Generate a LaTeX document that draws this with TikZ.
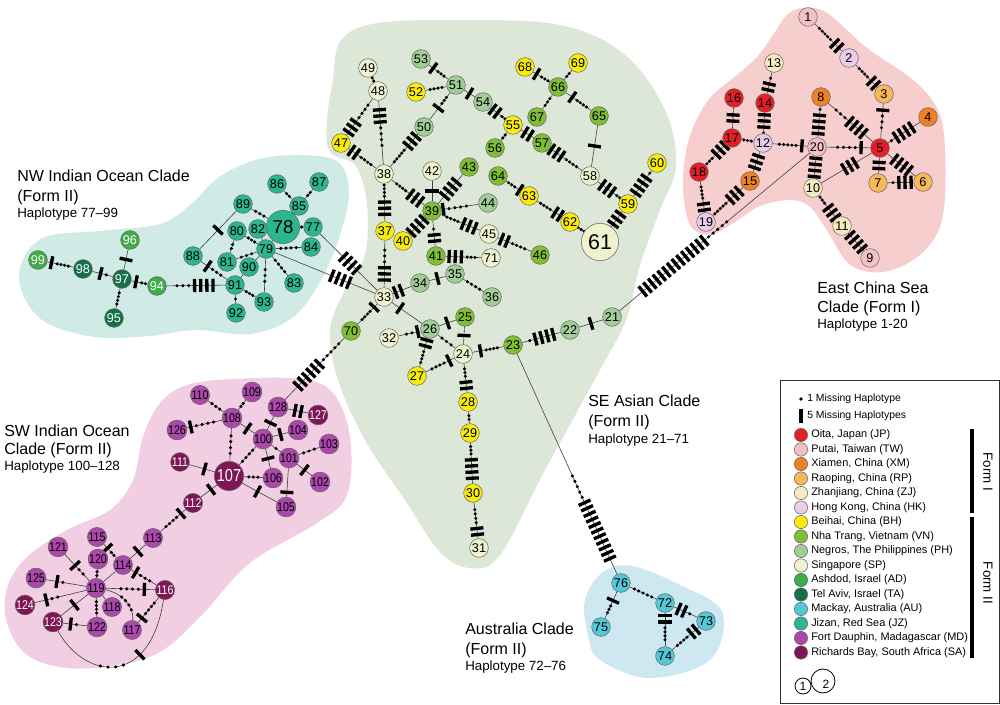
\documentclass[tikz,border=0pt]{standalone}
\usepackage{fontspec}
\setmainfont{Liberation Sans}
\newfontfamily\numf{Liberation Sans}
\newfontfamily\numc[FakeStretch=0.84]{Liberation Sans}
\usetikzlibrary{calc}
\pgfdeclarelayer{blob}
\pgfdeclarelayer{edges}
\pgfsetlayers{blob,edges,main}
\definecolor{cJP}{RGB}{228,30,38}
\definecolor{cTW}{RGB}{244,192,200}
\definecolor{cXM}{RGB}{240,128,36}
\definecolor{cRP}{RGB}{246,184,90}
\definecolor{cZJ}{RGB}{246,234,192}
\definecolor{cHK}{RGB}{234,204,234}
\definecolor{cBH}{RGB}{250,236,10}
\definecolor{cVN}{RGB}{128,190,52}
\definecolor{cPH}{RGB}{160,206,150}
\definecolor{cSP}{RGB}{238,242,205}
\definecolor{cAD}{RGB}{62,172,72}
\definecolor{cTA}{RGB}{22,112,72}
\definecolor{cAU}{RGB}{84,200,214}
\definecolor{cJZ}{RGB}{42,182,142}
\definecolor{cMD}{RGB}{172,72,172}
\definecolor{cSA}{RGB}{126,22,86}
\definecolor{bNW}{RGB}{208,234,229}
\definecolor{bSE}{RGB}{221,231,215}
\definecolor{bEC}{RGB}{246,206,206}
\definecolor{bSW}{RGB}{241,206,226}
\definecolor{bAU}{RGB}{206,232,241}
\def\barsep{4.6}
\def\barhalf{4.9}
\def\dotsep{4.4}
\tikzset{
  hap/.style={circle,draw=black!60,line width=0.4pt,minimum size=14pt,inner sep=0pt,font=\numf\fontsize{9.5}{9.5}\selectfont},
  h3/.style={font=\numc\fontsize{9.5}{9.5}\selectfont},
  sJP/.style={fill=cJP},sTW/.style={fill=cTW},sXM/.style={fill=cXM},sRP/.style={fill=cRP},
  sZJ/.style={fill=cZJ},sHK/.style={fill=cHK},sBH/.style={fill=cBH},sVN/.style={fill=cVN},
  sPH/.style={fill=cPH},sSP/.style={fill=cSP},sAD/.style={fill=cAD,text=white},sTA/.style={fill=cTA,text=white},
  sAU/.style={fill=cAU},sJZ/.style={fill=cJZ},sMD/.style={fill=cMD},sSA/.style={fill=cSA,text=white},
  edge/.style={draw=black!75,line width=0.45pt},
  bar/.style={draw=black,line width=2.5pt},
  dotn/.style={circle,fill=black,inner sep=0pt,minimum size=2.6pt},
  barn/.style={rectangle,fill=black,inner sep=0pt,minimum width=2.5pt,minimum height=9.8pt,sloped},
  clab/.style={anchor=base west,inner sep=0pt,font=\fontsize{12}{12}\selectfont},
  hlab/.style={anchor=base west,inner sep=0pt,font=\fontsize{10}{10}\selectfont},
  legt/.style={anchor=west,inner sep=0pt,font=\fontsize{8.2}{8.2}\selectfont},
  legc/.style={circle,draw=black!60,line width=0.4pt,minimum size=10pt,inner sep=0pt},
  blobf/.style={smooth cycle,tension=0.6}
}
\newcommand\hp[4][]{\node[hap,s#4,#1] (n#2) at (#3) {#2};}
\newcommand\lnk[5]{%
\begin{pgfonlayer}{edges}%
\draw[edge] (#1) -- (#2);%
\path (#1); \pgfgetlastxy\lAx\lAy
\path (#2); \pgfgetlastxy\lBx\lBy
\path (#1.east); \pgfgetlastxy\lAex\lAey
\path (#2.east); \pgfgetlastxy\lBex\lBey
\pgfmathsetmacro\lrA{\lAex-\lAx+2}%
\pgfmathsetmacro\lrB{\lBex-\lBx+2}%
\pgfmathsetmacro\lDx{\lBx-\lAx}%
\pgfmathsetmacro\lDy{\lBy-\lAy}%
\pgfmathsetmacro\lD{veclen(\lDx,\lDy)}%
\pgfmathsetmacro\lUx{\lDx/\lD}%
\pgfmathsetmacro\lUy{\lDy/\lD}%
\pgfmathsetmacro\lHalf{max(#3-1,0)/2*\barsep}%
\ifnum#3>0
 \foreach \k in {1,...,#3}{%
  \pgfmathsetmacro\lc{#5*\lD+(\k-1)*\barsep-\lHalf}%
  \pgfmathsetmacro\lpx{\lAx+\lc*\lUx-\barhalf*\lUy}%
  \pgfmathsetmacro\lpy{\lAy+\lc*\lUy+\barhalf*\lUx}%
  \pgfmathsetmacro\lqx{\lAx+\lc*\lUx+\barhalf*\lUy}%
  \pgfmathsetmacro\lqy{\lAy+\lc*\lUy-\barhalf*\lUx}%
  \draw[bar] (\lpx pt,\lpy pt) -- (\lqx pt,\lqy pt);
 }%
 \pgfmathsetmacro\lbeg{#5*\lD+\lHalf+4.4}%
 \pgfmathsetmacro\lend{\lD-\lrB}%
 \def\lmode{1}%
\else
 \pgfmathsetmacro\lbeg{\lrA}%
 \pgfmathsetmacro\lend{\lD-\lrB}%
 \def\lmode{0}%
\fi
\ifnum#4>0
 \pgfmathsetmacro\lsp{max(min(\dotsep,(\lend-\lbeg)/(#4)),2.8)}%
 \ifnum\lmode=1
  \pgfmathsetmacro\lst{\lbeg}%
 \else
  \pgfmathsetmacro\lst{(\lbeg+\lend)/2-(#4-1)/2*\lsp}%
 \fi
 \foreach \k in {1,...,#4}{%
  \pgfmathsetmacro\lc{\lst+(\k-1)*\lsp}%
  \pgfmathsetmacro\lpx{\lAx+\lc*\lUx}%
  \pgfmathsetmacro\lpy{\lAy+\lc*\lUy}%
  \fill (\lpx pt,\lpy pt) circle[radius=1.3pt];
 }%
\fi
\end{pgfonlayer}}
\begin{document}
\begin{tikzpicture}[x=0.75pt,y=-0.75pt]
\useasboundingbox (0,0) rectangle (1000,705);
\begin{pgfonlayer}{blob}
\fill[white] (0,0) rectangle (1000,705);
\fill[bNW] plot[blobf] coordinates {(22,262) (45,237) (100,231) (160,224) (190,205) (218,178) (255,160) (300,155) (338,162) (349,192) (340,235) (320,282) (292,318) (250,334) (195,330) (150,336) (95,337) (45,322) (22,292)};
\fill[bSE] plot[blobf] coordinates {(340,42) (372,24) (450,20) (560,25) (625,55) (665,110) (676,165) (660,210) (640,265) (626,320) (600,370) (545,470) (500,555) (470,568) (440,552) (405,500) (365,440) (338,380) (330,330) (345,290) (365,255) (367,205) (356,166) (330,152) (327,120) (333,80)};
\fill[bEC] plot[blobf] coordinates {(803,8) (827,13) (867,48) (913,80) (938,110) (945,150) (943,215) (927,248) (898,268) (870,272) (847,262) (828,232) (810,207) (790,200) (760,206) (735,222) (712,234) (692,228) (684,200) (684,165) (692,130) (710,98) (737,75) (757,57) (773,35) (787,15)};
\fill[bSW] plot[blobf] coordinates {(187,385) (233,379) (300,379) (333,393) (350,437) (347,495) (317,523) (250,563) (200,617) (160,652) (117,665) (67,668) (27,655) (7,623) (7,588) (27,557) (67,530) (110,510) (133,480) (143,437) (160,403)};
\fill[bAU] plot[blobf] coordinates {(585,600) (603,572) (632,566) (680,585) (722,612) (710,660) (650,678) (600,660) (588,635)};
\end{pgfonlayer}
% East China Sea clade
\hp{1}{808,17}{TW}\hp{2}{849,58}{HK}\hp{3}{884,94}{RP}\hp{4}{928,117}{XM}
\hp{5}{880,148}{JP}\hp{6}{923,182}{RP}\hp{7}{878,183}{RP}\hp{8}{821,97}{XM}
\hp{9}{870,258}{TW}\hp{10}{813,188}{ZJ}\hp{11}{842,226}{ZJ}\hp{12}{763,143}{HK}
\hp{13}{774,63}{ZJ}\hp{14}{765,103}{JP}\hp{15}{750,181}{XM}\hp{16}{734,98}{JP}
\hp{17}{732,138}{JP}\hp{18}{699,172}{JP}\hp{19}{706,222}{HK}\hp{20}{817,147}{TW}
% SE Asian clade
\hp{21}{612,317}{PH}\hp{22}{570,330}{PH}\hp{23}{513,345}{VN}\hp{24}{463,354}{SP}
\hp{25}{465,317}{VN}\hp{26}{430,329}{PH}\hp{27}{417,376}{BH}\hp{28}{468,402}{BH}
\hp{29}{470,433}{BH}\hp{30}{473,493}{BH}\hp{31}{479,548}{SP}\hp{32}{389,338}{SP}
\hp{33}{384,297}{SP}\hp{34}{420,283}{PH}\hp{35}{455,274}{PH}\hp{36}{492,297}{PH}
\hp{37}{385,231}{BH}\hp{38}{384,174}{SP}\hp{39}{432,211}{VN}\hp{40}{403,241}{BH}
\hp{41}{436,256}{VN}\hp{42}{432,171}{SP}\hp{43}{469,167}{VN}\hp{44}{488,203}{PH}
\hp{45}{489,234}{SP}\hp{46}{540,255}{VN}\hp{47}{341,143}{BH}\hp{48}{378,91}{SP}
\hp{49}{368,68}{SP}\hp{50}{424,127}{PH}\hp{51}{456,85}{PH}\hp{52}{416,92}{BH}
\hp{53}{421,59}{PH}\hp{54}{483,102}{PH}\hp{55}{513,125}{BH}\hp{56}{495,148}{VN}
\hp{57}{542,143}{VN}\hp{58}{590,176}{SP}\hp{59}{628,204}{BH}\hp{60}{657,163}{BH}
\hp[minimum size=28pt,font=\numf\fontsize{16}{16}\selectfont]{61}{600,242}{SP}
\hp{62}{570,222}{BH}\hp{63}{529,196}{BH}\hp{64}{498,176}{VN}
\hp{65}{599,116}{VN}\hp{66}{558,87}{VN}\hp{67}{537,117}{VN}\hp{68}{525,67}{BH}
\hp{69}{578,63}{BH}\hp{70}{351,331}{VN}\hp{71}{491,258}{SP}
% Australia clade
\hp{72}{665,603}{AU}\hp{73}{706,621}{AU}\hp{74}{665,656}{AU}\hp{75}{601,627}{AU}\hp{76}{621,583}{AU}
% NW Indian Ocean clade
\hp{77}{313,227}{JZ}
\hp[minimum size=25pt,font=\numf\fontsize{14}{14}\selectfont]{78}{283,227}{JZ}
\hp{79}{266,249}{JZ}\hp{80}{237,231}{JZ}\hp{81}{227,262}{JZ}\hp{82}{258,229}{JZ}
\hp{83}{294,283}{JZ}\hp{84}{311,247}{JZ}\hp{85}{299,206}{JZ}\hp{86}{277,184}{JZ}
\hp{87}{319,182}{JZ}\hp{88}{193,256}{JZ}\hp{89}{243,204}{JZ}\hp{90}{249,267}{JZ}
\hp{91}{235,285}{JZ}\hp{92}{236,313}{JZ}\hp{93}{264,302}{JZ}\hp{94}{157,286}{AD}
\hp{95}{114,318}{TA}\hp{96}{130,240}{AD}\hp{97}{122,279}{TA}\hp{98}{83,269}{TA}
\hp{99}{38,260}{AD}
% SW Indian Ocean clade
\hp[h3]{100}{263,439}{MD}\hp[h3]{101}{289,458}{MD}\hp[h3]{102}{320,482}{MD}\hp[h3]{103}{329,444}{MD}
\hp[h3]{104}{298,430}{MD}\hp[h3]{105}{286,507}{MD}\hp[h3]{106}{273,478}{MD}
\hp[minimum size=22pt,font=\numc\fontsize{13}{13}\selectfont]{107}{229,476}{SA}
\hp[h3]{108}{232,418}{MD}\hp[h3]{109}{252,392}{MD}\hp[h3]{110}{200,395}{MD}\hp[h3]{111}{180,462}{SA}
\hp[h3]{112}{193,503}{SA}\hp[h3]{113}{153,538}{MD}\hp[h3]{114}{123,565}{MD}\hp[h3]{115}{97,537}{MD}
\hp[h3]{116}{165,590}{SA}\hp[h3]{117}{132,630}{MD}\hp[h3]{118}{112,607}{MD}\hp[h3]{119}{96,588}{MD}
\hp[h3]{120}{98,559}{MD}\hp[h3]{121}{58,547}{MD}\hp[h3]{122}{97,627}{MD}\hp[h3]{123}{53,622}{SA}
\hp[h3]{124}{25,605}{SA}\hp[h3]{125}{36,578}{MD}\hp[h3]{126}{177,430}{MD}\hp[h3]{127}{318,415}{SA}
\hp[h3]{128}{278,407}{MD}
% ---- connectors: from, to, bars, dots, bar position
\lnk{n2}{n1}{2}{5}{0.3}\lnk{n3}{n2}{2}{4}{0.3}\lnk{n3}{n5}{1}{3}{0.3}
\lnk{n4}{n5}{4}{1}{0.5}\lnk{n6}{n5}{4}{0}{0.5}\lnk{n5}{n7}{2}{0}{0.5}
\lnk{n6}{n7}{3}{1}{0.4}\lnk{n5}{n8}{4}{3}{0.4}\lnk{n5}{n20}{1}{4}{0.3}
\lnk{n5}{n10}{3}{0}{0.45}\lnk{n20}{n10}{4}{0}{0.5}\lnk{n20}{n8}{4}{1}{0.45}
\lnk{n11}{n10}{3}{3}{0.35}\lnk{n11}{n9}{4}{0}{0.5}\lnk{n20}{n12}{1}{5}{0.28}
\lnk{n12}{n17}{0}{3}{0.5}\lnk{n14}{n12}{3}{1}{0.45}\lnk{n14}{n13}{2}{1}{0.4}
\lnk{n17}{n16}{2}{0}{0.5}\lnk{n17}{n18}{3}{3}{0.35}\lnk{n12}{n15}{3}{0}{0.5}
\lnk{n19}{n18}{2}{4}{0.3}\lnk{n15}{n19}{3}{5}{0.35}\lnk{n21}{n20}{14}{5}{0.3}
\lnk{n48}{n49}{0}{2}{0.5}\lnk{n48}{n38}{3}{4}{0.3}\lnk{n47}{n48}{3}{4}{0.3}
\lnk{n47}{n38}{2}{4}{0.3}\lnk{n50}{n38}{3}{5}{0.3}\lnk{n50}{n51}{1}{3}{0.45}
\lnk{n52}{n51}{0}{4}{0.5}\lnk{n53}{n51}{1}{3}{0.35}\lnk{n51}{n54}{1}{0}{0.5}
\lnk{n54}{n55}{2}{2}{0.4}\lnk{n55}{n56}{0}{2}{0.5}\lnk{n55}{n57}{2}{0}{0.5}
\lnk{n57}{n58}{3}{4}{0.3}\lnk{n58}{n65}{1}{0}{0.5}\lnk{n58}{n59}{3}{2}{0.45}
\lnk{n59}{n60}{4}{1}{0.45}\lnk{n59}{n61}{3}{1}{0.4}\lnk{n62}{n61}{0}{3}{0.5}
\lnk{n62}{n63}{2}{4}{0.3}\lnk{n63}{n64}{1}{3}{0.3}\lnk{n68}{n66}{1}{3}{0.35}
\lnk{n66}{n69}{0}{2}{0.5}\lnk{n66}{n67}{0}{3}{0.5}\lnk{n66}{n65}{1}{4}{0.35}
\lnk{n37}{n38}{3}{4}{0.4}\lnk{n33}{n37}{3}{3}{0.35}\lnk{n39}{n38}{3}{4}{0.35}
\lnk{n39}{n42}{1}{0}{0.5}\lnk{n39}{n43}{4}{0}{0.5}\lnk{n39}{n44}{1}{4}{0.2}
\lnk{n45}{n39}{3}{4}{0.35}\lnk{n45}{n46}{2}{4}{0.3}\lnk{n39}{n40}{4}{0}{0.5}
\lnk{n41}{n39}{2}{1}{0.4}\lnk{n41}{n71}{3}{3}{0.35}\lnk{n33}{n34}{2}{0}{0.4}
\lnk{n34}{n35}{1}{0}{0.5}\lnk{n35}{n36}{0}{4}{0.5}\lnk{n33}{n26}{1}{0}{0.35}
\lnk{n26}{n25}{1}{0}{0.5}\lnk{n26}{n32}{1}{2}{0.3}\lnk{n26}{n27}{2}{4}{0.3}
\lnk{n26}{n24}{0}{3}{0.5}\lnk{n25}{n24}{1}{0}{0.5}\lnk{n24}{n27}{1}{4}{0.3}
\lnk{n24}{n23}{1}{4}{0.35}\lnk{n22}{n23}{4}{1}{0.45}\lnk{n21}{n22}{1}{0}{0.5}
\lnk{n28}{n24}{2}{3}{0.35}\lnk{n28}{n29}{0}{2}{0.5}\lnk{n30}{n29}{4}{3}{0.4}
\lnk{n31}{n30}{2}{4}{0.3}\lnk{n33}{n70}{1}{4}{0.3}\lnk{n128}{n70}{6}{5}{0.42}
\lnk{n79}{n33}{4}{0}{0.63}\lnk{n77}{n33}{4}{0}{0.52}\lnk{n76}{n23}{11}{5}{0.22}
\lnk{n76}{n72}{0}{5}{0.5}\lnk{n76}{n75}{1}{3}{0.4}\lnk{n72}{n73}{2}{1}{0.4}
\lnk{n72}{n74}{2}{4}{0.3}\lnk{n73}{n74}{2}{4}{0.3}
\lnk{n85}{n86}{0}{2}{0.5}\lnk{n85}{n87}{0}{2}{0.5}\lnk{n85}{n78}{0}{1}{0.5}
\lnk{n89}{n78}{0}{3}{0.5}\lnk{n78}{n77}{0}{1}{0.5}\lnk{n78}{n79}{0}{0}{0.5}
\lnk{n82}{n79}{0}{0}{0.5}\lnk{n80}{n79}{0}{3}{0.5}\lnk{n79}{n84}{0}{4}{0.5}
\lnk{n79}{n81}{0}{3}{0.5}\lnk{n79}{n90}{0}{0}{0.5}\lnk{n79}{n83}{0}{4}{0.5}
\lnk{n79}{n93}{0}{3}{0.5}\lnk{n89}{n88}{1}{0}{0.5}\lnk{n88}{n91}{1}{3}{0.35}
\lnk{n81}{n80}{0}{2}{0.5}\lnk{n91}{n90}{0}{0}{0.5}\lnk{n91}{n93}{0}{3}{0.5}
\lnk{n91}{n92}{0}{1}{0.5}\lnk{n91}{n94}{4}{3}{0.4}\lnk{n97}{n94}{1}{2}{0.4}
\lnk{n97}{n96}{1}{0}{0.5}\lnk{n98}{n97}{1}{1}{0.45}\lnk{n99}{n98}{1}{4}{0.3}
\lnk{n97}{n95}{0}{4}{0.5}
\lnk{n128}{n127}{2}{0}{0.5}\lnk{n128}{n100}{1}{0}{0.5}\lnk{n108}{n110}{0}{3}{0.5}
\lnk{n108}{n109}{0}{2}{0.5}\lnk{n126}{n108}{1}{4}{0.25}\lnk{n108}{n100}{1}{0}{0.5}
\lnk{n108}{n107}{0}{4}{0.5}\lnk{n100}{n104}{1}{0}{0.5}\lnk{n100}{n107}{0}{4}{0.5}
\lnk{n100}{n101}{0}{1}{0.5}\lnk{n101}{n103}{0}{3}{0.5}\lnk{n101}{n102}{1}{0}{0.5}
\lnk{n101}{n105}{1}{0}{0.7}\lnk{n107}{n106}{0}{3}{0.5}\lnk{n100}{n106}{1}{0}{0.5}
\lnk{n107}{n105}{1}{0}{0.5}\lnk{n107}{n111}{1}{0}{0.5}\lnk{n107}{n112}{1}{0}{0.5}
\lnk{n112}{n113}{1}{4}{0.3}\lnk{n113}{n114}{1}{0}{0.5}\lnk{n115}{n114}{1}{2}{0.4}
\lnk{n114}{n119}{0}{0}{0.5}\lnk{n114}{n116}{1}{3}{0.3}\lnk{n119}{n120}{0}{2}{0.5}
\lnk{n121}{n119}{1}{2}{0.45}\lnk{n125}{n119}{1}{1}{0.35}\lnk{n124}{n119}{1}{2}{0.3}
\lnk{n119}{n123}{1}{0}{0.5}\lnk{n119}{n122}{0}{4}{0.5}\lnk{n119}{n118}{0}{0}{0.5}
\lnk{n116}{n119}{1}{4}{0.3}\lnk{n117}{n116}{1}{4}{0.3}\lnk{n123}{n122}{1}{1}{0.4}
\begin{pgfonlayer}{edges}
\draw[edge] (n119) .. controls (118,592) and (134,603) .. (n117)
  node[pos=0.42,dotn]{} node[pos=0.54,dotn]{} node[pos=0.66,dotn]{} node[pos=0.78,dotn]{};
\draw[edge] (n123) .. controls (85,680) and (150,688) .. (n116)
  node[pos=0.38,dotn]{} node[pos=0.44,dotn]{} node[pos=0.50,dotn]{} node[pos=0.56,dotn]{} node[pos=0.70,barn]{};
\end{pgfonlayer}
% clade labels
\node[clab] (tNW1) at (17,182) {NW Indian Ocean Clade};
\node[clab] (tNW2) at (17,202) {(Form II)};
\node[hlab] (tNW3) at (17,218) {Haplotype 77–99};
\node[clab] (tSW1) at (4,437) {SW Indian Ocean};
\node[clab] (tSW2) at (4,455) {Clade (Form II)};
\node[hlab] (tSW3) at (4,471) {Haplotype 100–128};
\node[clab] (tSE1) at (588,407) {SE Asian Clade};
\node[clab] (tSE2) at (588,427) {(Form II)};
\node[hlab] (tSE3) at (588,444) {Haplotype 21–71};
\node[clab] (tAU1) at (465,634) {Australia Clade};
\node[clab] (tAU2) at (465,654) {(Form II)};
\node[hlab] (tAU3) at (465,671) {Haplotype 72–76};
\node[clab] (tEC1) at (817,294) {East China Sea};
\node[clab] (tEC2) at (817,313) {Clade (Form I)};
\node[hlab] (tEC3) at (817,329) {Haplotype 1-20};
% legend
\draw[black!80,line width=0.6pt] (780,380) rectangle (999,703);
\node[circle,fill=black,inner sep=0pt,minimum size=2.8pt] (kdot) at (801,399) {};
\node[legt,font=\fontsize{7.8}{7.8}\selectfont] (kdott) at (807,399) {1 Missing Haplotype};
\node[rectangle,fill=black,inner sep=0pt,minimum width=2.6pt,minimum height=10pt] (kbar) at (801,416) {};
\node[legt,font=\fontsize{7.8}{7.8}\selectfont] (kbart) at (807,416) {5 Missing Haplotypes};
\foreach \c/\t [count=\i] in {JP/{Oita, Japan (JP)},TW/{Putai, Taiwan (TW)},XM/{Xiamen, China (XM)},RP/{Raoping, China (RP)},ZJ/{Zhanjiang, China (ZJ)},HK/{Hong Kong, China (HK)},BH/{Beihai, China (BH)},VN/{Nha Trang, Vietnam (VN)},PH/{Negros, The Philippines (PH)},SP/{Singapore (SP)},AD/{Ashdod, Israel (AD)},TA/{Tel Aviv, Israel (TA)},AU/{Mackay, Australia (AU)},JZ/{Jizan, Red Sea (JZ)},MD/{Fort Dauphin, Madagascar (MD)},SA/{Richards Bay, South Africa (SA)}}{
  \node[legc,fill=c\c] (kc\i) at (801,{435+14.5*(\i-1)}) {};
  \node[legt] (kt\i) at (811,{435+14.5*(\i-1)}) {\t};
}
\draw[line width=3pt] (972,429) -- (972,513);
\draw[line width=3pt] (972,517) -- (972,658);
\node[rotate=-90,font=\fontsize{10}{10}\selectfont,inner sep=0pt] (kf1) at (988,472) {Form I};
\node[rotate=-90,font=\fontsize{10}{10}\selectfont,inner sep=0pt] (kf2) at (988,583) {Form II};
\node[circle,draw=black,fill=white,line width=0.6pt,minimum size=18pt,inner sep=0pt] (ks2) at (823,681) {};
\node[circle,draw=black,fill=white,line width=0.6pt,minimum size=12pt,inner sep=0pt,font=\fontsize{9}{9}\selectfont] (ks1) at (803,686) {1};
\node[font=\fontsize{9}{9}\selectfont,inner sep=0pt] (ks2t) at (826,684) {2};
\end{tikzpicture}
\end{document}
